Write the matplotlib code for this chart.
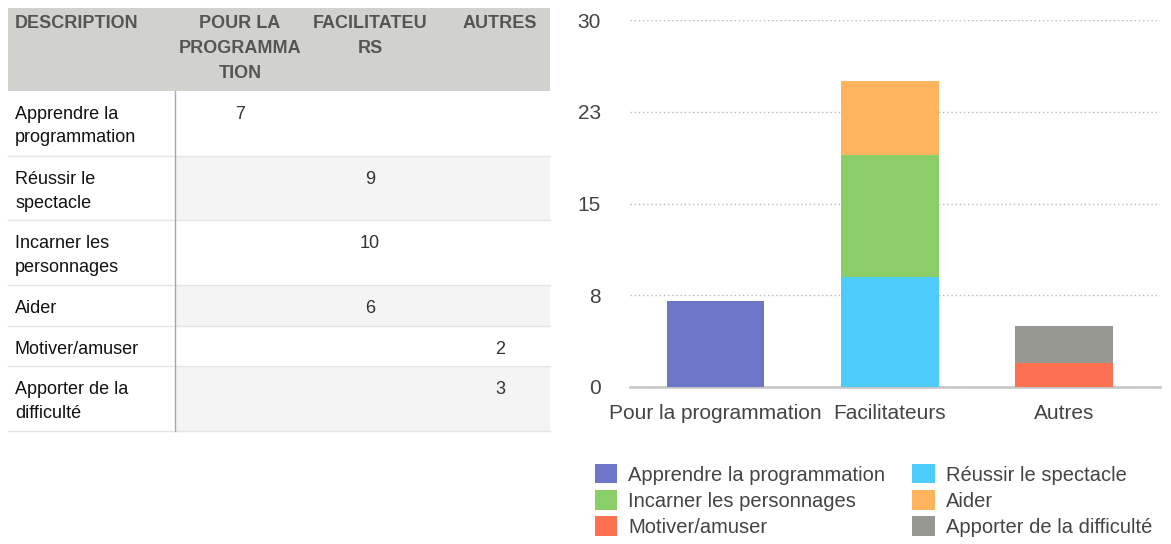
import matplotlib
matplotlib.use("Agg")
import matplotlib.pyplot as plt
from matplotlib.patches import Rectangle

# ---- data ----
groups = ["Pour la programmation", "Facilitateurs", "Autres"]
descriptions = ["Apprendre la programmation", "Réussir le spectacle", "Incarner les personnages",
                "Aider", "Motiver/amuser", "Apporter de la difficulté"]
# value of each description and the group it belongs to (index into groups)
values = [7, 9, 10, 6, 2, 3]
group_of = [0, 1, 1, 1, 2, 2]
colors = ["#6e76c9", "#4dcbfb", "#8bcd68", "#fdb45c", "#fd7052", "#979792"]
y_ticks = [0, 7.5, 15, 22.5, 30]
y_tick_labels = ["0", "8", "15", "23", "30"]

# table layout text
header_labels = ["DESCRIPTION", "POUR LA\nPROGRAMMA\nTION", "FACILITATEU\nRS", "AUTRES"]
row_labels = ["Apprendre la\nprogrammation", "Réussir le\nspectacle", "Incarner les\npersonnages",
              "Aider", "Motiver/amuser", "Apporter de la\ndifficulté"]

plt.rcParams["font.family"] = ["Liberation Sans", "DejaVu Sans"]

W, H = 1171, 544
fig = plt.figure(figsize=(W / 100, H / 100), dpi=100)

# ---- table drawn in pixel coordinates ----
tab = fig.add_axes([0, 0, 1, 1])
tab.set_xlim(0, W)
tab.set_ylim(H, 0)
tab.axis("off")

tx0, tx1 = 8, 550
col_split = 175
col_centers = [None, 240, 370, 500]
header_top, header_bot = 8, 91
row_edges = [91, 156, 220, 285, 326, 366, 431]

tab.add_patch(Rectangle((tx0, header_top), tx1 - tx0, header_bot - header_top,
                        facecolor="#d1d1cd", edgecolor="none"))
tab.text(15, 15, header_labels[0], ha="left", va="top", fontsize=13, fontweight="bold",
         color="#555555")
for c in range(1, 4):
    tab.text(col_centers[c], 15, header_labels[c], ha="center", va="top", fontsize=13,
             fontweight="bold", color="#555555", linespacing=1.6, multialignment="center")

for r in range(len(row_labels)):
    top, bot = row_edges[r], row_edges[r + 1]
    if r % 2 == 1:
        tab.add_patch(Rectangle((col_split, top), tx1 - col_split, bot - top,
                                facecolor="#f4f4f4", edgecolor="none"))
    tab.plot([tx0, tx1], [bot, bot], color="#e4e4e4", lw=1)
    tab.text(15, top + 15, row_labels[r], ha="left", va="top", fontsize=13, color="#111111",
             linespacing=1.5)
    tab.text(col_centers[group_of[r] + 1], top + 15, str(values[r]), ha="center", va="top",
             fontsize=13, color="#333333")
tab.plot([col_split, col_split], [header_bot, row_edges[-1]], color="#a8a8a8", lw=1)

# ---- stacked bar chart ----
ax = fig.add_axes([630 / W, 1 - 387 / H, (1160 - 630) / W, (387 - 20) / H])
bottoms = [0.0, 0.0, 0.0]
handles = []
for i, (d, v, g) in enumerate(zip(descriptions, values, group_of)):
    h = ax.bar(g, v, bottom=bottoms[g], width=0.56, color=colors[i], label=d, zorder=3)
    bottoms[g] += v
    handles.append(h)

ax.set_xlim(-0.49, 2.55)
ax.set_ylim(0, 30)
ax.set_yticks(y_ticks)
ax.set_yticklabels(y_tick_labels)
ax.set_xticks(range(len(groups)))
ax.set_xticklabels(groups)
ax.tick_params(axis="both", length=0, labelsize=15, colors="#444444")
ax.tick_params(axis="y", pad=21)
ax.tick_params(axis="x", pad=12)
for s in ["top", "left", "right"]:
    ax.spines[s].set_visible(False)
ax.spines["bottom"].set_color("#c4c4c4")
ax.spines["bottom"].set_linewidth(1.8)
ax.grid(axis="y", linestyle=(0, (1, 2)), color="#b8b8b8", lw=1, zorder=0)
ax.set_axisbelow(True)

# legend filled row by row
order = [0, 2, 4, 1, 3, 5]
leg = fig.legend([handles[i] for i in order], [descriptions[i] for i in order], ncol=2,
                 loc="upper left", bbox_to_anchor=(587 / W, 1 - 456 / H), frameon=False,
                 fontsize=14.5, handlelength=1.1, handleheight=1.1, handletextpad=0.55,
                 columnspacing=1.35, labelspacing=0.28, borderaxespad=0)
for t in leg.get_texts():
    t.set_color("#444444")

fig.savefig("out.png", dpi=100)
